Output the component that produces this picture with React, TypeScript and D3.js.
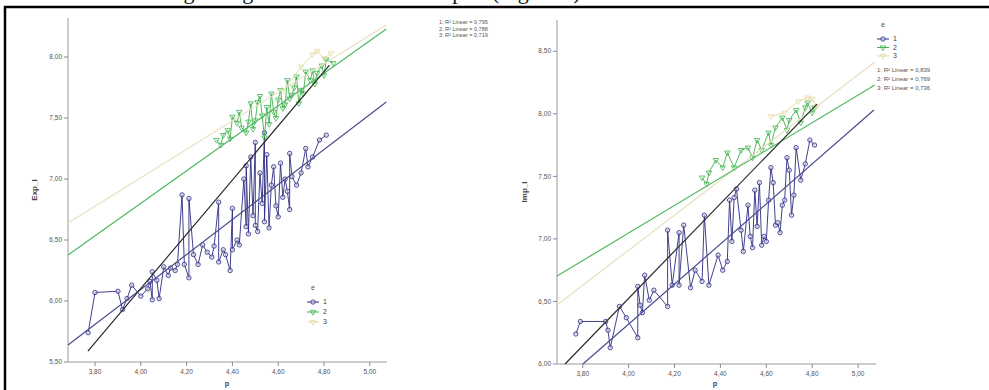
import React from 'react';
import * as d3 from 'd3';

type Pt = [number, number];

// ---------- data ----------
const xTicks = [3.8, 4.0, 4.2, 4.4, 4.6, 4.8, 5.0];
const leftYTicks = [5.5, 6.0, 6.5, 7.0, 7.5, 8.0];
const rightYTicks = [6.0, 6.5, 7.0, 7.5, 8.0, 8.5];
const groupLabels = ['1', '2', '3'];
const leftR2 = ['1: R\u00B2 Linear = 0,795', '2: R\u00B2 Linear = 0,788', '3: R\u00B2 Linear = 0,719'];
const rightR2 = ['1: R\u00B2 Linear = 0,839', '2: R\u00B2 Linear = 0,769', '3: R\u00B2 Linear = 0,736'];

const leftSeries1: Pt[] = [
  [3.77, 5.74], [3.80, 6.07], [3.90, 6.08], [3.92, 5.93], [3.94, 6.02], [3.96, 6.13], [4.00, 6.04], [4.03, 6.10],
  [4.04, 6.16], [4.05, 6.01], [4.05, 6.24], [4.07, 6.17], [4.08, 6.02], [4.10, 6.28], [4.12, 6.21], [4.13, 6.27],
  [4.15, 6.25], [4.16, 6.30], [4.18, 6.87], [4.19, 6.30], [4.21, 6.19], [4.21, 6.84], [4.23, 6.38], [4.25, 6.30],
  [4.27, 6.46], [4.29, 6.40], [4.31, 6.36], [4.32, 6.45], [4.34, 6.81], [4.34, 6.32], [4.36, 6.42], [4.37, 6.38],
  [4.39, 6.25], [4.40, 6.76], [4.40, 6.42], [4.42, 6.50], [4.43, 6.46], [4.45, 7.00], [4.46, 6.61], [4.46, 7.11],
  [4.47, 6.55], [4.48, 7.18], [4.49, 6.70], [4.50, 7.30], [4.50, 6.62], [4.51, 6.57], [4.52, 7.05], [4.53, 6.80],
  [4.54, 7.38], [4.54, 6.65], [4.55, 7.20], [4.56, 6.60], [4.57, 6.95], [4.58, 7.10], [4.59, 6.78], [4.60, 6.69],
  [4.61, 7.13], [4.62, 6.85], [4.63, 7.00], [4.64, 6.90], [4.65, 6.75], [4.65, 7.21], [4.66, 7.02], [4.68, 6.95],
  [4.70, 7.05], [4.72, 7.25], [4.73, 7.10], [4.75, 7.18], [4.78, 7.32], [4.81, 7.36],
];
const leftSeries2: Pt[] = [
  [4.33, 7.32], [4.35, 7.28], [4.36, 7.36], [4.38, 7.40], [4.39, 7.33], [4.40, 7.51], [4.42, 7.46], [4.43, 7.55],
  [4.44, 7.42], [4.46, 7.38], [4.47, 7.47], [4.48, 7.62], [4.49, 7.41], [4.50, 7.48], [4.51, 7.63], [4.52, 7.68],
  [4.53, 7.52], [4.54, 7.34], [4.55, 7.59], [4.56, 7.45], [4.57, 7.70], [4.58, 7.55], [4.59, 7.50], [4.60, 7.65],
  [4.61, 7.73], [4.62, 7.58], [4.63, 7.61], [4.64, 7.81], [4.65, 7.66], [4.66, 7.69], [4.67, 7.75], [4.68, 7.84],
  [4.69, 7.62], [4.70, 7.73], [4.71, 7.70], [4.72, 7.88], [4.74, 7.81], [4.75, 7.89], [4.76, 7.78], [4.77, 7.87],
  [4.79, 7.93], [4.80, 7.85], [4.81, 7.98], [4.84, 7.95],
];
const leftSeries3: Pt[] = [[4.62, 7.72], [4.70, 7.92], [4.75, 8.02], [4.77, 8.05], [4.80, 7.99], [4.83, 8.03]];

const leftFit1: Pt[] = [[3.682, 5.639], [5.072, 7.631]];
const leftFit2: Pt[] = [[3.682, 6.377], [5.072, 8.23]];
const leftFit3: Pt[] = [[3.682, 6.639], [5.072, 8.262]];
const leftFitTotal: Pt[] = [[3.769, 5.59], [4.824, 7.934]];

const rightSeries1: Pt[] = [
  [3.77, 6.24], [3.79, 6.34], [3.90, 6.34], [3.91, 6.27], [3.92, 6.13], [3.96, 6.46], [3.99, 6.37], [4.04, 6.21],
  [4.04, 6.62], [4.05, 6.47], [4.06, 6.41], [4.07, 6.71], [4.09, 6.51], [4.11, 6.59], [4.17, 6.46], [4.17, 7.07],
  [4.19, 6.63], [4.22, 7.05], [4.22, 6.63], [4.24, 7.11], [4.27, 6.61], [4.29, 6.75], [4.32, 6.66], [4.33, 7.19],
  [4.35, 6.63], [4.39, 6.87], [4.41, 6.75], [4.43, 6.82], [4.44, 7.31], [4.45, 6.98], [4.46, 7.33], [4.47, 7.40],
  [4.49, 7.07], [4.50, 6.90], [4.52, 7.27], [4.53, 7.02], [4.54, 6.93], [4.55, 7.39], [4.56, 7.10], [4.57, 7.45],
  [4.58, 6.95], [4.59, 7.02], [4.60, 6.98], [4.61, 7.31], [4.62, 7.57], [4.63, 7.45], [4.64, 7.11], [4.65, 7.13],
  [4.66, 7.05], [4.67, 7.27], [4.68, 7.31], [4.69, 7.65], [4.70, 7.55], [4.71, 7.19], [4.72, 7.35], [4.73, 7.73],
  [4.75, 7.47], [4.77, 7.60], [4.79, 7.79], [4.81, 7.75],
];
const rightSeries2: Pt[] = [
  [4.32, 7.49], [4.34, 7.44], [4.35, 7.53], [4.38, 7.63], [4.41, 7.57], [4.43, 7.69], [4.46, 7.57], [4.49, 7.71],
  [4.52, 7.73], [4.54, 7.65], [4.56, 7.79], [4.58, 7.71], [4.61, 7.85], [4.62, 7.75], [4.64, 7.89], [4.67, 7.97],
  [4.69, 7.87], [4.70, 7.95], [4.73, 8.03], [4.75, 7.93], [4.77, 8.05], [4.78, 8.09], [4.80, 8.01], [4.81, 8.05],
];
const rightSeries3: Pt[] = [[4.62, 7.98], [4.68, 8.01], [4.74, 8.10], [4.78, 8.13], [4.80, 8.12], [4.82, 8.06]];

const rightFit1: Pt[] = [[3.801, 6.0], [5.069, 8.03]];
const rightFit2: Pt[] = [[3.688, 6.703], [5.073, 8.23]];
const rightFit3: Pt[] = [[3.688, 6.472], [5.073, 8.414]];
const rightFitTotal: Pt[] = [[3.723, 6.0], [4.821, 8.078]];

// ---------- styles ----------
const C1 = '#2c2c82';
const C2 = '#3fb44c';
const C3 = '#e2d8a2';
const FIT1 = '#4a4a90';
const FIT2 = '#4fb862';
const FIT3 = '#e7e0bf';
const FITT = '#2a2a2a';
const FONT = 'Liberation Sans, Arial, sans-serif';

const fmt = (v: number) => v.toFixed(2).replace('.', ',');

interface PanelProps {
  s1: Pt[]; s2: Pt[]; s3: Pt[];
  fits: { pts: Pt[]; color: string; w: number }[];
  xDomain: [number, number]; xRange: [number, number];
  yDomain: [number, number]; yRange: [number, number];
  yTicks: number[]; yTitle: string; yTitleX: number; xTitleX: number;
  legend: { x: number; y: number; dy: number };
  r2: { x: number; y: number; dy: number; size: number; texts: string[] };
}

function Panel(p: PanelProps) {
  const x = d3.scaleLinear().domain(p.xDomain).range(p.xRange);
  const y = d3.scaleLinear().domain(p.yDomain).range(p.yRange);
  const line = d3.line<Pt>().x((d) => x(d[0])).y((d) => y(d[1]));
  const tri = d3.symbol().type(d3.symbolTriangle).size(13)() as string;
  const axisY = p.yRange[0];
  const axisX = p.xRange[0];
  const series = [
    { pts: p.s1, color: C1, shape: 'circle' },
    { pts: p.s2, color: C2, shape: 'tri' },
    { pts: p.s3, color: C3, shape: 'tri' },
  ];
  const markerFor = (shape: string, color: string, cx: number, cy: number, key: string | number) =>
    shape === 'circle' ? (
      <circle key={key} cx={cx} cy={cy} r={2.2} fill="#d0d0ea" fillOpacity={0.6} stroke={color} strokeWidth={0.8} />
    ) : (
      <path key={key} d={tri} transform={`translate(${cx},${cy}) rotate(180)`} fill="none" stroke={color} strokeWidth={0.8} />
    );
  return (
    <g>
      {/* axes */}
      <line x1={axisX} x2={axisX} y1={p.yRange[1]} y2={axisY} stroke="#9a9a9a" strokeWidth={1} />
      <line x1={axisX} x2={p.xRange[1]} y1={axisY} y2={axisY} stroke="#9a9a9a" strokeWidth={1} />
      {p.yTicks.map((t) => (
        <g key={'y' + t}>
          <line x1={axisX - 4} x2={axisX} y1={y(t)} y2={y(t)} stroke="#8a8a8a" strokeWidth={1} />
          <text x={axisX - 6} y={y(t)} dy="0.33em" textAnchor="end" fontSize={6.5} fill="#555" fontFamily={FONT}>
            {fmt(t)}
          </text>
        </g>
      ))}
      {xTicks.map((t) => (
        <g key={'x' + t}>
          <line x1={x(t)} x2={x(t)} y1={axisY} y2={axisY + 4} stroke="#8a8a8a" strokeWidth={1} />
          <text x={x(t)} y={axisY + 12} textAnchor="middle" fontSize={6.5} fill="#555" fontFamily={FONT}>
            {fmt(t)}
          </text>
        </g>
      ))}
      <text
        transform={`translate(${p.yTitleX},${(p.yRange[0] + p.yRange[1]) / 2}) rotate(-90)`}
        textAnchor="middle" fontSize={8} fontWeight="bold" fill="#444" fontFamily={FONT}
      >
        {p.yTitle}
      </text>
      <text x={p.xTitleX} y={386} textAnchor="middle" fontSize={7.5} fontWeight="bold" fill="#444" fontFamily={FONT}>
        p
      </text>

      {/* data */}
      {series.map((s, i) => (
        <g key={'s' + i}>
          <path d={line(s.pts) || ''} fill="none" stroke={s.color} strokeWidth={1} strokeOpacity={0.9} />
          {s.pts.map((d, j) => markerFor(s.shape, s.color, x(d[0]), y(d[1]), j))}
        </g>
      ))}

      {/* fit lines */}
      {p.fits.map((f, i) => (
        <path key={'f' + i} d={line(f.pts) || ''} fill="none" stroke={f.color} strokeWidth={f.w} />
      ))}

      {/* legend */}
      <text x={p.legend.x + 6} y={p.legend.y} textAnchor="middle" fontSize={7} fill="#555" fontFamily={FONT}>
        e
      </text>
      {groupLabels.map((g, i) => {
        const ly = p.legend.y + 12 + i * p.legend.dy;
        const s = series[i];
        return (
          <g key={'l' + g}>
            <line x1={p.legend.x} x2={p.legend.x + 12} y1={ly} y2={ly} stroke={s.color} strokeWidth={1} />
            {markerFor(s.shape, s.color, p.legend.x + 6, ly, 'm' + g)}
            <text x={p.legend.x + 16} y={ly} dy="0.33em" fontSize={7} fill="#444" fontFamily={FONT}>
              {g}
            </text>
          </g>
        );
      })}

      {/* R2 labels */}
      {p.r2.texts.map((t, i) => (
        <text key={'r' + i} x={p.r2.x} y={p.r2.y + i * p.r2.dy} fontSize={p.r2.size} fill="#555" fontFamily={FONT}>
          {t}
        </text>
      ))}
    </g>
  );
}

export default function App() {
  return (
    <svg
      width={989}
      height={390}
      viewBox="0 0 989 390"
      style={{ position: 'absolute', left: 0, top: 0, background: '#fff' }}
    >
      <rect x={0} y={0} width={989} height={390} fill="#fff" />
      <text x={120} y={-1} fontSize={22} fontFamily="Liberation Serif, Times New Roman, serif" fill="#111">
        showing the agreement on the scatter plot (Figure 2)
      </text>
      <line x1={4} x2={989} y1={7} y2={7} stroke="#000" strokeWidth={2.5} />
      <line x1={5} x2={5} y1={6} y2={390} stroke="#000" strokeWidth={2.5} />

      <Panel
        s1={leftSeries1} s2={leftSeries2} s3={leftSeries3}
        fits={[
          { pts: leftFit3, color: FIT3, w: 1.2 },
          { pts: leftFit2, color: FIT2, w: 1.2 },
          { pts: leftFit1, color: FIT1, w: 1.2 },
          { pts: leftFitTotal, color: FITT, w: 1.2 },
        ]}
        xDomain={[3.682, 5.075]} xRange={[68, 387]}
        yDomain={[5.5, 8.32]} yRange={[362, 18]}
        yTicks={leftYTicks} yTitle="Exp_i" yTitleX={37} xTitleX={227}
        legend={{ x: 307, y: 290, dy: 10 }}
        r2={{ x: 439, y: 24, dy: 6.5, size: 5.5, texts: leftR2 }}
      />
      <Panel
        s1={rightSeries1} s2={rightSeries2} s3={rightSeries3}
        fits={[
          { pts: rightFit3, color: FIT3, w: 1.2 },
          { pts: rightFit2, color: FIT2, w: 1.2 },
          { pts: rightFit1, color: FIT1, w: 1.2 },
          { pts: rightFitTotal, color: FITT, w: 1.2 },
        ]}
        xDomain={[3.688, 5.078]} xRange={[557, 876]}
        yDomain={[6.0, 8.75]} yRange={[364, 20]}
        yTicks={rightYTicks} yTitle="Imp_i" yTitleX={527} xTitleX={715}
        legend={{ x: 877, y: 27, dy: 8.5 }}
        r2={{ x: 877, y: 72, dy: 9, size: 6, texts: rightR2 }}
      />
    </svg>
  );
}
